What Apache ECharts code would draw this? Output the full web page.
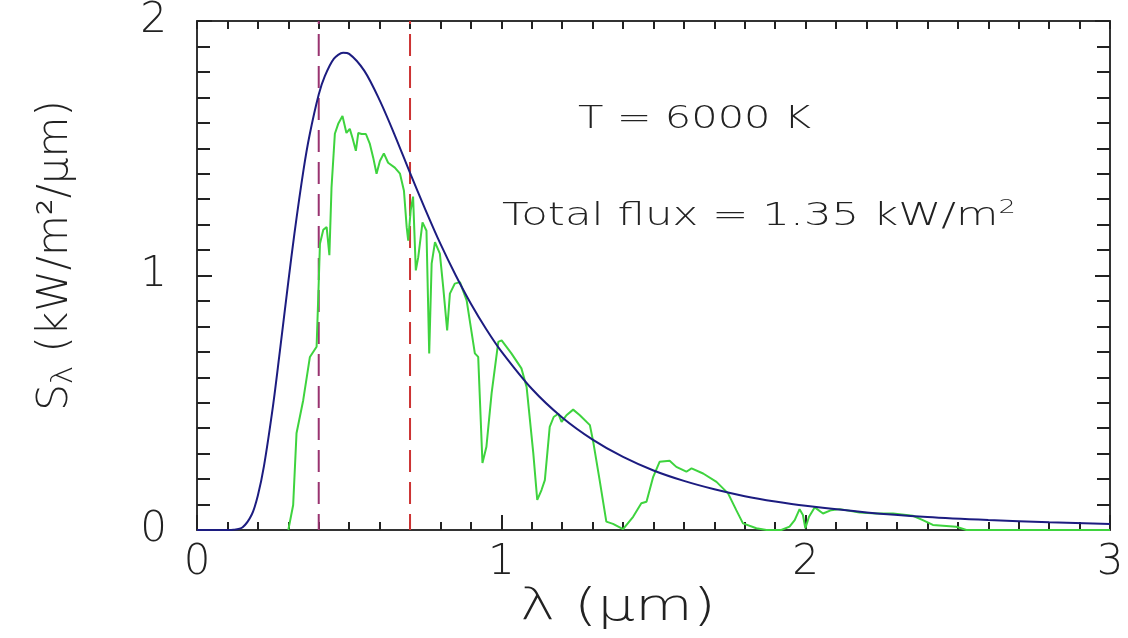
<!DOCTYPE html>
<html>
<head>
<meta charset="utf-8">
<script src="https://cdn.jsdelivr.net/npm/echarts@6/dist/echarts.min.js"></script>
<style>html,body{margin:0;padding:0;background:#fff;}#c{width:1128px;height:638px;}</style>
</head>
<body>
<div id="c"></div>
<script>
// Blackbody curve (T = 6000 K)
const blueX = [0, 0.1, 0.12, 0.15, 0.18, 0.2, 0.22, 0.25, 0.27, 0.3, 0.32, 0.35, 0.37, 0.4, 0.42, 0.45, 0.48, 0.5, 0.55, 0.6, 0.65, 0.7, 0.75, 0.8, 0.85, 0.9, 0.95, 1.0, 1.1, 1.2, 1.3, 1.4, 1.5, 1.6, 1.7, 1.8, 1.9, 2.0, 2.2, 2.4, 2.6, 2.8, 3.0];
const blueY = [0, 0, 0.001, 0.011, 0.061, 0.136, 0.251, 0.490, 0.680, 0.975, 1.164, 1.415, 1.552, 1.711, 1.783, 1.852, 1.875, 1.871, 1.804, 1.689, 1.551, 1.403, 1.260, 1.124, 1.001, 0.889, 0.790, 0.702, 0.555, 0.442, 0.355, 0.287, 0.234, 0.193, 0.160, 0.133, 0.112, 0.095, 0.069, 0.051, 0.039, 0.030, 0.024];
// Observed solar spectrum
const greenX = [0.300,0.316,0.327,0.349,0.371,0.393,0.398,0.404,0.415,0.426,0.435,0.442,0.453,0.464,0.478,0.491,0.502,0.511,0.522,0.530,0.541,0.555,0.568,0.579,0.590,0.601,0.614,0.628,0.650,0.667,0.680,0.689,0.694,0.702,0.710,0.719,0.727,0.741,0.754,0.763,0.771,0.782,0.798,0.809,0.822,0.831,0.847,0.864,0.886,0.913,0.924,0.938,0.951,0.968,0.990,1.001,1.033,1.066,1.083,1.105,1.118,1.132,1.143,1.159,1.172,1.187,1.198,1.214,1.236,1.258,1.291,1.302,1.323,1.345,1.367,1.400,1.433,1.460,1.477,1.499,1.520,1.553,1.575,1.608,1.625,1.663,1.707,1.745,1.772,1.794,1.838,1.871,1.920,1.947,1.964,1.980,1.991,1.999,2.011,2.030,2.057,2.084,2.112,2.177,2.232,2.287,2.352,2.385,2.418,2.495,2.528,3.000];
const greenY = [0.000,0.098,0.380,0.510,0.680,0.720,0.900,1.125,1.180,1.190,1.080,1.345,1.557,1.596,1.627,1.560,1.576,1.540,1.490,1.560,1.556,1.556,1.517,1.463,1.400,1.450,1.480,1.443,1.424,1.400,1.333,1.190,1.137,1.255,1.310,1.020,1.072,1.209,1.176,0.694,1.047,1.131,1.086,0.954,0.784,0.929,0.968,0.974,0.902,0.694,0.680,0.263,0.327,0.537,0.739,0.745,0.694,0.635,0.562,0.302,0.118,0.157,0.196,0.405,0.444,0.457,0.425,0.451,0.473,0.451,0.412,0.346,0.196,0.033,0.024,0.003,0.052,0.105,0.111,0.209,0.268,0.272,0.248,0.229,0.242,0.222,0.189,0.144,0.078,0.026,0.007,0.000,0.000,0.013,0.039,0.082,0.059,0.007,0.052,0.089,0.065,0.078,0.082,0.069,0.065,0.065,0.056,0.039,0.020,0.013,0.000,0.000];
// Visible band limits (µm)
const bandLines = [0.4, 0.7];
const xTicks = [0, 1, 2, 3];
const yTicks = [0, 1, 2];
const xTitle = 'λ (μm)';
const annotations = ['T = 6000 K', 'Total flux = 1.35 kW/m', '2'];

const FONT = 'DejaVu Sans';
const chart = echarts.init(document.getElementById('c'), null, {renderer: 'canvas'});
const axisLine = {show: true, onZero: false, lineStyle: {color: '#333', width: 2}};
const tickStyle = {color: '#222', width: 2};
const xBase = {
  type: 'value', min: xTicks[0], max: xTicks[xTicks.length - 1], interval: 1,
  axisLine: axisLine, splitLine: {show: false},
  minorTick: {show: true, splitNumber: 10, length: 8, lineStyle: tickStyle},
  axisTick: {show: true, inside: true, length: 15, lineStyle: tickStyle}
};
const yBase = {
  type: 'value', min: yTicks[0], max: yTicks[yTicks.length - 1], interval: 1,
  axisLine: axisLine, splitLine: {show: false},
  minorTick: {show: true, splitNumber: 10, length: 13, lineStyle: tickStyle},
  axisTick: {show: true, inside: true, length: 15, lineStyle: tickStyle}
};
const labelStyle = {color: '#222', fontFamily: FONT, fontWeight: 200};

const option = {
  animation: false,
  backgroundColor: '#fff',
  grid: {left: 197, right: 18, top: 20, bottom: 108, containLabel: false},
  xAxis: [
    Object.assign({}, xBase, {
      position: 'bottom',
      axisLabel: Object.assign({fontSize: 42, margin: 12}, labelStyle)
    }),
    Object.assign({}, xBase, {position: 'top', axisLabel: {show: false},
      axisTick: {show: true, inside: true, length: 8, lineStyle: tickStyle}})
  ],
  yAxis: [
    Object.assign({}, yBase, {
      position: 'left',
      axisLabel: Object.assign({fontSize: 42, margin: 30}, labelStyle),
      name: 'S{sub|λ} (kW/m²/μm)', nameLocation: 'middle', nameGap: 118,
      nameTextStyle: Object.assign({fontSize: 42, padding: [0, 0, 0, 40],
        rich: {sub: Object.assign({fontSize: 31, padding: [14, 0, 0, 0]}, labelStyle)}}, labelStyle)
    }),
    Object.assign({}, yBase, {position: 'right', axisLabel: {show: false}})
  ],
  graphic: [
    {type: 'text', left: 520, top: 587, scaleX: 1.35,
      style: {text: xTitle, font: '200 44px "' + FONT + '"', fill: '#222'}},
    {type: 'text', left: 578, top: 104, scaleX: 1.3,
      style: {text: annotations[0], font: '200 32px "' + FONT + '"', fill: '#222'}},
    {type: 'text', left: 502, top: 198, scaleX: 1.36,
      style: {text: '{m|' + annotations[1] + '}{s|' + annotations[2] + '}',
        rich: {m: {font: '200 32px "' + FONT + '"', fill: '#222'},
               s: {font: '200 20px "' + FONT + '"', fill: '#222', padding: [0, 0, 18, 0]}}}}
  ],
  series: [
    {
      type: 'line', name: 'violet', xAxisIndex: 0, yAxisIndex: 0, symbol: 'none',
      data: [[bandLines[0], yTicks[0]], [bandLines[0], yTicks[2]]],
      lineStyle: {color: '#993370', width: 2, type: [22, 10], dashOffset: 6}, z: 1
    },
    {
      type: 'line', name: 'red', xAxisIndex: 0, yAxisIndex: 0, symbol: 'none',
      data: [[bandLines[1], yTicks[0]], [bandLines[1], yTicks[2]]],
      lineStyle: {color: '#cc3333', width: 2, type: [22, 10], dashOffset: 6}, z: 1
    },
    {
      type: 'line', name: 'observed', xAxisIndex: 0, yAxisIndex: 0, symbol: 'none',
      data: greenX.map((x, i) => [x, greenY[i]]),
      lineStyle: {color: '#3ed33e', width: 2}, z: 2
    },
    {
      type: 'line', name: 'blackbody', xAxisIndex: 0, yAxisIndex: 0, symbol: 'none', smooth: 0.3,
      data: blueX.map((x, i) => [x, blueY[i]]),
      lineStyle: {color: '#1c1c80', width: 2}, z: 3
    }
  ]
};
chart.setOption(option);
</script>
</body>
</html>
